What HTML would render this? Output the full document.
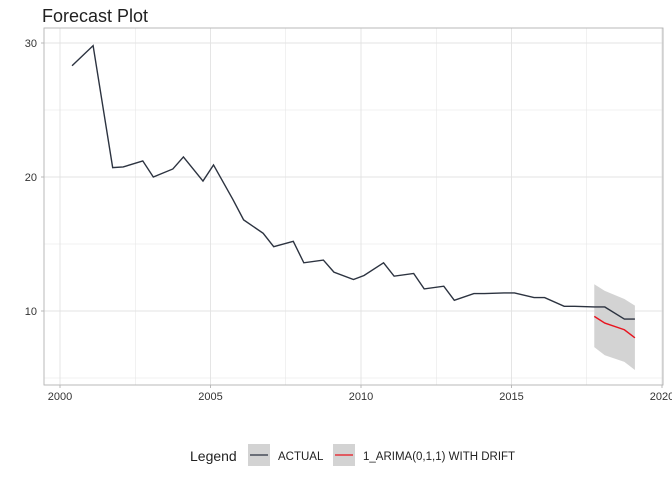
<!DOCTYPE html>
<html><head><meta charset="utf-8"><style>
body{margin:0;background:#fff;font-family:"Liberation Sans",sans-serif}
</style></head><body>
<svg id="c" width="672" height="480" xmlns="http://www.w3.org/2000/svg">
<text x="42" y="22" font-size="18" fill="#222">Forecast Plot</text>
<g id="grid"></g><g id="marks"></g><g id="axes"></g>
<g>
<text x="190" y="461" font-size="14" fill="#222">Legend</text>
<rect x="248" y="444" width="22" height="22" fill="#d3d3d3"/>
<line x1="250" y1="455" x2="268" y2="455" stroke="#2c3340" stroke-width="1.3"/>
<text x="278" y="460" font-size="11.5" fill="#222">ACTUAL</text>
<rect x="333" y="444" width="22" height="22" fill="#d3d3d3"/>
<line x1="335" y1="455" x2="353" y2="455" stroke="#e8141f" stroke-width="1.3"/>
<text x="363" y="460" font-size="11.5" fill="#222">1_ARIMA(0,1,1) WITH DRIFT</text>
</g>
</svg>
<script>
const actualX=[2000.4,2001.1,2001.75,2002.1,2002.75,2003.1,2003.75,2004.1,2004.75,2005.1,2005.75,2006.1,2006.75,2007.1,2007.75,2008.1,2008.75,2009.1,2009.75,2010.1,2010.75,2011.1,2011.75,2012.1,2012.75,2013.1,2013.75,2014.1,2014.75,2015.1,2015.75,2016.1,2016.75,2017.1,2017.75,2018.1,2018.75,2019.1];
const actualY=[28.3,29.8,20.7,20.75,21.2,20.0,20.6,21.5,19.7,20.9,18.3,16.8,15.8,14.8,15.2,13.6,13.8,12.9,12.35,12.65,13.6,12.6,12.8,11.65,11.85,10.8,11.3,11.3,11.35,11.35,11.0,11.0,10.35,10.35,10.3,10.3,9.4,9.4];
const fcX=[2017.75,2018.1,2018.75,2019.1];
const fcY=[9.6,9.1,8.6,8.0];
const fcHi=[12.0,11.5,10.9,10.4];
const fcLo=[7.3,6.7,6.2,5.6];
const xTicks=[2000,2005,2010,2015,2020];
const yTicks=[10,20,30];
const NS="http://www.w3.org/2000/svg";
const L=44,R=663,T=28,B=385;
const sx=v=>60+(v-2000)*30.1;
const sy=v=>311-(v-10)*13.4;
function mk(p,tag,a){const e=document.createElementNS(NS,tag);for(const k in a)e.setAttribute(k,a[k]);document.getElementById(p).appendChild(e);return e;}
for(let y=5;y<=30;y+=5){const e=mk('grid','line',{x1:L,x2:R,y1:sy(y),y2:sy(y),stroke:'#e3e3e3','stroke-width':yTicks.includes(y)?0.9:0.5});

}
for(let x=2000;x<=2020;x+=2.5){const e=mk('grid','line',{x1:sx(x),x2:sx(x),y1:T,y2:B,stroke:'#e3e3e3','stroke-width':xTicks.includes(x)?0.9:0.5});

}
const pb=mk('axes','rect',{x:L,y:T,width:R-L,height:B-T,fill:'none',stroke:'#b3b3b3','stroke-width':0.9});


xTicks.forEach(t=>{mk('axes','line',{x1:sx(t),x2:sx(t),y1:B,y2:B+3,stroke:'#b3b3b3','stroke-width':0.9});
const e=mk('axes','text',{x:sx(t),y:400,'font-size':11,fill:'#333','text-anchor':'middle'});e.textContent=t;

});
yTicks.forEach(t=>{mk('axes','line',{x1:L-3,x2:L,y1:sy(t),y2:sy(t),stroke:'#b3b3b3','stroke-width':0.9});
const e=mk('axes','text',{x:37,y:sy(t)+4,'font-size':11,fill:'#333','text-anchor':'end'});e.textContent=t;

});
let band=fcX.map((x,i)=>sx(x)+','+sy(fcHi[i])).concat(fcX.map((x,i)=>sx(x)+','+sy(fcLo[i])).reverse()).join(' ');
const b=mk('marks','polygon',{points:band,fill:'#d3d3d3'});


const a=mk('marks','polyline',{points:actualX.map((x,i)=>sx(x)+','+sy(actualY[i])).join(' '),fill:'none',stroke:'#2c3340','stroke-width':1.4});


const f=mk('marks','polyline',{points:fcX.map((x,i)=>sx(x)+','+sy(fcY[i])).join(' '),fill:'none',stroke:'#e8141f','stroke-width':1.4});


</script>
</body></html>
